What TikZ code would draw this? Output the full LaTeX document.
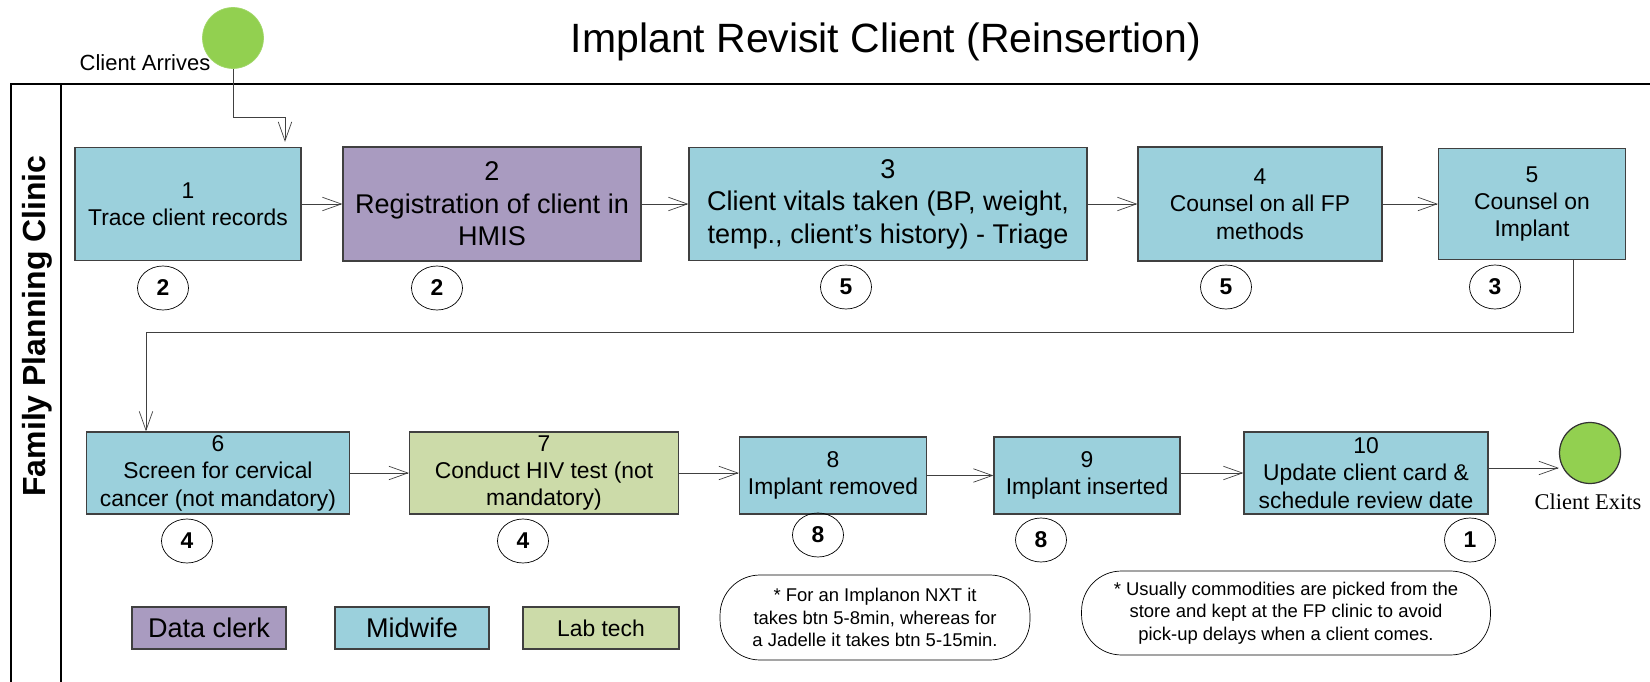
\documentclass[tikz,border=0pt]{standalone}
\usepackage{fontspec}
\setmainfont{Liberation Sans}
\newfontfamily\timesfont{Liberation Serif}
\usetikzlibrary{arrows.meta,shapes.geometric}
\definecolor{midwife}{HTML}{9BD0DC}
\definecolor{clerk}{HTML}{A99BC0}
\definecolor{labtech}{HTML}{CCDBA9}
\definecolor{go}{HTML}{92D050}

\begin{document}
\begin{tikzpicture}[x=0.02cm,y=-0.02cm,
  mw/.style={draw=black!75,fill=midwife,line width=0.7pt,align=center,inner sep=0pt,font=\fontsize{13}{15.6}\selectfont},
  big/.style={font=\fontsize{15.4}{18.5}\selectfont},
  dc/.style={mw,fill=clerk},
  lt/.style={mw,fill=labtech},
  dur/.style={draw,ellipse,minimum width=1.02cm,minimum height=0.88cm,inner sep=0pt,font=\bfseries\fontsize{13}{15}\selectfont},
  note/.style={draw,rounded corners=0.8cm,align=center,inner sep=0pt,font=\fontsize{10.5}{12.8}\selectfont},
  flow/.style={draw=black!75,-{Straight Barb[length=0.38cm,width=0.27cm]}}]
\useasboundingbox (0,0) rectangle (1650,682);

\node[font=\fontsize{23.3}{28}\selectfont] (title) at (886,42) {Implant Revisit Client (Reinsertion)};
\draw[line width=0.7pt] (11,682) -- (11,84) -- (1650,84);
\draw[line width=0.7pt] (61,84) -- (61,682);
\node[rotate=90,font=\bfseries\fontsize{18.2}{21}\selectfont] (lane) at (37,326) {Family Planning Clinic};

\node[circle,fill=go,draw=go!85!white,minimum size=1.22cm] (S) at (233,38) {};
\node[font=\fontsize{12.5}{15}\selectfont] (arrlab) at (145,63) {Client Arrives};

\node[mw,minimum width=4.52cm,minimum height=2.26cm] (s1) at (188,204) {1\\Trace client records};
\node[dc,big,minimum width=5.96cm,minimum height=2.28cm] (s2) at (492,204) {2\\Registration of client in\\HMIS};
\node[mw,big,minimum width=7.96cm,minimum height=2.26cm] (s3) at (888,204) {3\\Client vitals taken (BP, weight,\\temp., client’s history) - Triage};
\node[mw,minimum width=4.88cm,minimum height=2.28cm] (s4) at (1260,204) {4\\Counsel on all FP\\methods};
\node[mw,minimum width=3.74cm,minimum height=2.22cm] (s5) at (1532,204) {5\\Counsel on\\Implant};

\node[dur] (t1) at (163,288) {2};
\node[dur] (t2) at (437,288) {2};
\node[dur] (t3) at (846,287) {5};
\node[dur] (t4) at (1226,287) {5};
\node[dur] (t5) at (1495,287) {3};

\node[mw,minimum width=5.26cm,minimum height=1.64cm] (s6) at (218,473) {6\\Screen for cervical\\cancer (not mandatory)};
\node[lt,minimum width=5.38cm,minimum height=1.64cm] (s7) at (544,473) {7\\Conduct HIV test (not\\mandatory)};
\node[mw,minimum width=3.74cm,minimum height=1.54cm] (s8) at (833,475.5) {8\\Implant removed};
\node[mw,minimum width=3.72cm,minimum height=1.54cm] (s9) at (1087,475.5) {9\\Implant inserted};
\node[mw,minimum width=4.88cm,minimum height=1.64cm] (s10) at (1366,473) {10\\Update client card \&\\schedule review date};

\node[dur] (t6) at (187,541) {4};
\node[dur] (t7) at (523,541) {4};
\node[dur] (t8) at (818,535) {8};
\node[dur] (t9) at (1041,540) {8};
\node[dur] (t10) at (1470,540) {1};

\node[circle,fill=go,draw=black!80,line width=0.7pt,minimum size=1.22cm] (E) at (1590,453) {};
\node[font=\timesfont\fontsize{12.8}{15}\selectfont] (exitlab) at (1588,502) {Client Exits};

\node[dc,big,minimum width=3.08cm,minimum height=0.84cm] (k1) at (209,628) {Data clerk};
\node[mw,big,minimum width=3.08cm,minimum height=0.84cm] (k2) at (412,628) {Midwife};
\node[lt,minimum width=3.12cm,minimum height=0.84cm] (k3) at (601,628) {Lab tech};

\node[note,minimum width=6.2cm,minimum height=1.7cm] (n1) at (875,617.5) {* For an Implanon NXT it\\takes btn 5-8min, whereas for\\a Jadelle it takes btn 5-15min.};
\node[note,minimum width=8.18cm,minimum height=1.68cm] (n2) at (1286,613) {* Usually commodities are picked from the\\store and kept at the FP clinic to avoid\\pick-up delays when a client comes.};

\coordinate (bend) at (285,117);
\draw[flow,shorten >=0.1cm] (S.south) |- (bend) -- (bend |- s1.north);
\draw[flow] (s1) -- (s2);
\draw[flow] (s2) -- (s3);
\draw[flow] (s3) -- (s4);
\draw[flow] (s4) -- (s5);
\coordinate (r) at (1573,332);
\coordinate (l) at (146,332);
\draw[flow] (s5.south -| r) -- (r) -- (l) -- (l |- s6.north);
\draw[flow] (s6) -- (s7);
\draw[flow] (s7) -- (s7 -| s8.west);
\draw[flow] (s8) -- (s9);
\draw[flow] (s9.east |- s10) -- (s10);
\draw[flow] ([yshift=0.1cm]s10.east) -- ([yshift=0.1cm]s10.east -| E.west);
\end{tikzpicture}
\end{document}
